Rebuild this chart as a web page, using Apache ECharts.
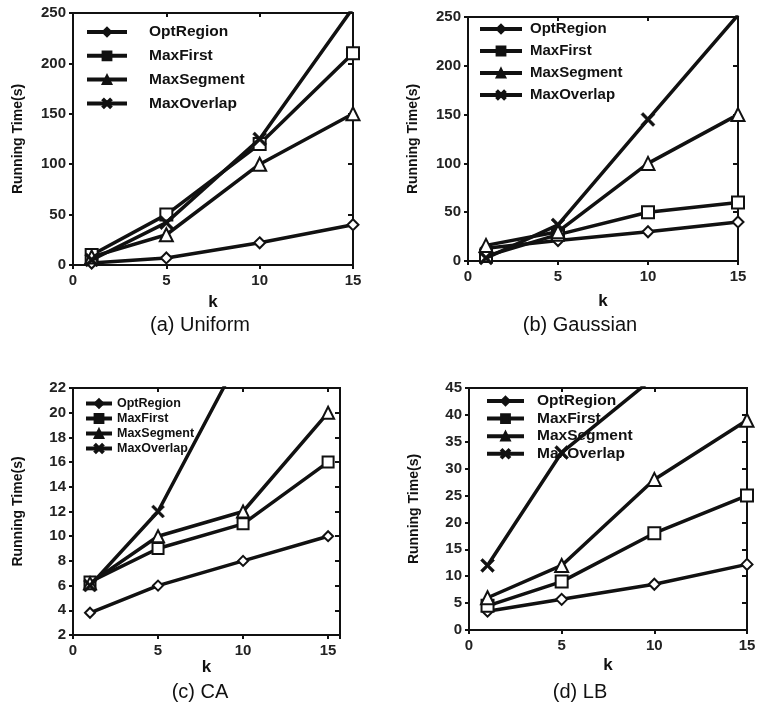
<!DOCTYPE html>
<html>
<head>
<meta charset="utf-8">
<script src="https://cdn.jsdelivr.net/npm/echarts@6/dist/echarts.min.js"></script>
<style>html,body{margin:0;padding:0;background:#fff}#c{width:760px;height:722px}</style>
</head>
<body>
<div id="c"></div>
<script>
var seriesNames = ['OptRegion', 'MaxFirst', 'MaxSegment', 'MaxOverlap'];
var kValues = [1, 5, 10, 15];
var xTicks = [0, 5, 10, 15];

var uniformOpt = [2, 7, 22, 40];
var uniformFirst = [10, 50, 120, 210];
var uniformSeg = [8, 30, 100, 150];
var uniformOver = [5, 42, 125, 255];

var gaussOpt = [13, 21, 30, 40];
var gaussFirst = [5, 27, 50, 60];
var gaussSeg = [16, 30, 100, 150];
var gaussOver = [3, 37, 145, 252];

var caOpt = [3.8, 6, 8, 10];
var caFirst = [6.3, 9, 11, 16];
var caSeg = [6.2, 10, 12, 20];
var caOver = [6, 12, 25, 40];

var lbOpt = [3.5, 5.7, 8.5, 12.2];
var lbFirst = [4.5, 9, 18, 25];
var lbSeg = [6, 12, 28, 39];
var lbOver = [12, 33, 47, 60];

var panelTitles = ['(a) Uniform', '(b) Gaussian', '(c) CA', '(d) LB'];

var panels = [
  {grid:{left:73, top:13, width:280, height:252}, xmax:15, ymin:0, ymax:250, yint:50, kGap:29, yGap:48,
   data:[uniformOpt, uniformFirst, uniformSeg, uniformOver],
   legend:{left:85, top:24, lh:16, gap:7.8, font:15.5, iw:40, tp:17}, title:{x:195, y:310}},
  {grid:{left:468, top:17, width:270, height:244}, xmax:15, ymin:0, ymax:250, yint:50, kGap:32, yGap:48,
   data:[gaussOpt, gaussFirst, gaussSeg, gaussOver],
   legend:{left:478, top:21, lh:16, gap:6, font:15, iw:42, tp:3}, title:{x:575, y:310}},
  {grid:{left:73, top:388, width:267, height:247}, xmax:15.7, ymin:2, ymax:22, yint:2, kGap:23, yGap:48,
   data:[caOpt, caFirst, caSeg, caOver],
   legend:{left:84, top:397, lh:13, gap:2, font:12.5, iw:26, tp:0}, title:{x:195, y:677}},
  {grid:{left:469, top:388, width:278, height:242}, xmax:15, ymin:0, ymax:45, yint:5, kGap:27, yGap:48,
   data:[lbOpt, lbFirst, lbSeg, lbOver],
   legend:{left:485, top:393, lh:15, gap:1.6, font:15.5, iw:37, tp:8}, title:{x:575, y:677}}
];

var xSymbol = 'path://M0,1.5L1.5,0L5,3.5L8.5,0L10,1.5L6.5,5L10,8.5L8.5,10L5,6.5L1.5,10L0,8.5L3.5,5Z';
var symbols = ['diamond', 'rect', 'triangle', xSymbol];
var symbolSizes = [11, 12, 13, 14];

var fontFam = 'Liberation Sans, Arial, sans-serif';
var option = {animation:false, backgroundColor:'#fff', grid:[], xAxis:[], yAxis:[], series:[], legend:[], title:[]};

panels.forEach(function(p, i){
  option.grid.push({left:p.grid.left, top:p.grid.top, width:p.grid.width, height:p.grid.height,
    show:true, borderColor:'#111', borderWidth:2, backgroundColor:'transparent', containLabel:false});
  var labelFmt = function(v){ return (Math.abs(v - Math.round(v)) < 1e-6 && xTicks.indexOf(Math.round(v)) >= 0) ? String(Math.round(v)) : ''; };
  option.xAxis.push({type:'value', gridIndex:i, min:0, max:p.xmax, interval:5, position:'bottom',
    name:'k', nameLocation:'middle', nameGap:p.kGap,
    nameTextStyle:{fontFamily:fontFam, fontWeight:'bold', fontSize:17, color:'#111'},
    axisLine:{show:true, onZero:false, lineStyle:{color:'#111', width:2}},
    axisTick:{show:true, inside:false, length:4, lineStyle:{color:'#111', width:2}},
    axisLabel:{fontFamily:fontFam, fontWeight:'bold', fontSize:15, color:'#222', margin:8, formatter:labelFmt, showMaxLabel:true},
    splitLine:{show:false}});
  option.xAxis.push({type:'value', gridIndex:i, min:0, max:p.xmax, interval:5, position:'top',
    axisLine:{show:true, onZero:false, lineStyle:{color:'#111', width:2}},
    axisTick:{show:true, inside:true, length:4, lineStyle:{color:'#111', width:2}},
    axisLabel:{show:false}, splitLine:{show:false}});
  option.yAxis.push({type:'value', gridIndex:i, min:p.ymin, max:p.ymax, interval:p.yint, position:'left',
    name:'Running Time(s)', nameLocation:'middle', nameGap:p.yGap,
    nameTextStyle:{fontFamily:fontFam, fontWeight:'bold', fontSize:14, color:'#111'},
    axisLine:{show:true, onZero:false, lineStyle:{color:'#111', width:2}},
    axisTick:{show:true, inside:false, length:4, lineStyle:{color:'#111', width:2}},
    axisLabel:{fontFamily:fontFam, fontWeight:'bold', fontSize:15, color:'#222', margin:7},
    splitLine:{show:false}});
  option.yAxis.push({type:'value', gridIndex:i, min:p.ymin, max:p.ymax, interval:p.yint, position:'right',
    axisLine:{show:true, onZero:false, lineStyle:{color:'#111', width:2}},
    axisTick:{show:true, inside:true, length:5, lineStyle:{color:'#111', width:2}},
    axisLabel:{show:false}, splitLine:{show:false}});

  var legendData = [];
  p.data.forEach(function(arr, j){
    var nm = seriesNames[j] + '\u200b'.repeat(i);
    legendData.push({name:nm});
    option.series.push({
      type:'line', name:nm, xAxisIndex:i*2, yAxisIndex:i*2,
      data:kValues.map(function(k, n){ return [k, arr[n]]; }),
      symbol:symbols[j], symbolSize:(i===2? symbolSizes[j]-1 : symbolSizes[j]),
      showAllSymbol:true, clip:true, z:3+j,
      lineStyle:{color:'#111', width:3.5},
      itemStyle:{color: j===3 ? '#111' : '#fff', borderColor:'#111', borderWidth: j===3 ? 0.5 : 2}
    });
  });
  option.legend.push({data:legendData, orient:'vertical', left:p.legend.left, top:p.legend.top, padding:0,
    itemWidth:p.legend.iw, itemHeight:11, itemGap:p.legend.gap,
    itemStyle:{color:'#111', borderColor:'#111'},
    lineStyle:{width:4, color:'#111'},
    formatter:function(n){ return n.replace(/\u200b/g,''); },
    textStyle:{fontFamily:fontFam, fontWeight:'bold', fontSize:p.legend.font, lineHeight:p.legend.lh, color:'#111', padding:[0,0,0,p.legend.tp]}});
  option.title.push({text:panelTitles[i], left:p.title.x, top:p.title.y, textAlign:'center',
    textStyle:{fontFamily:fontFam, fontWeight:'normal', fontSize:20, color:'#111'}});
});

var chart = echarts.init(document.getElementById('c'), null, {renderer:'canvas'});
chart.setOption(option);
</script>
</body>
</html>
